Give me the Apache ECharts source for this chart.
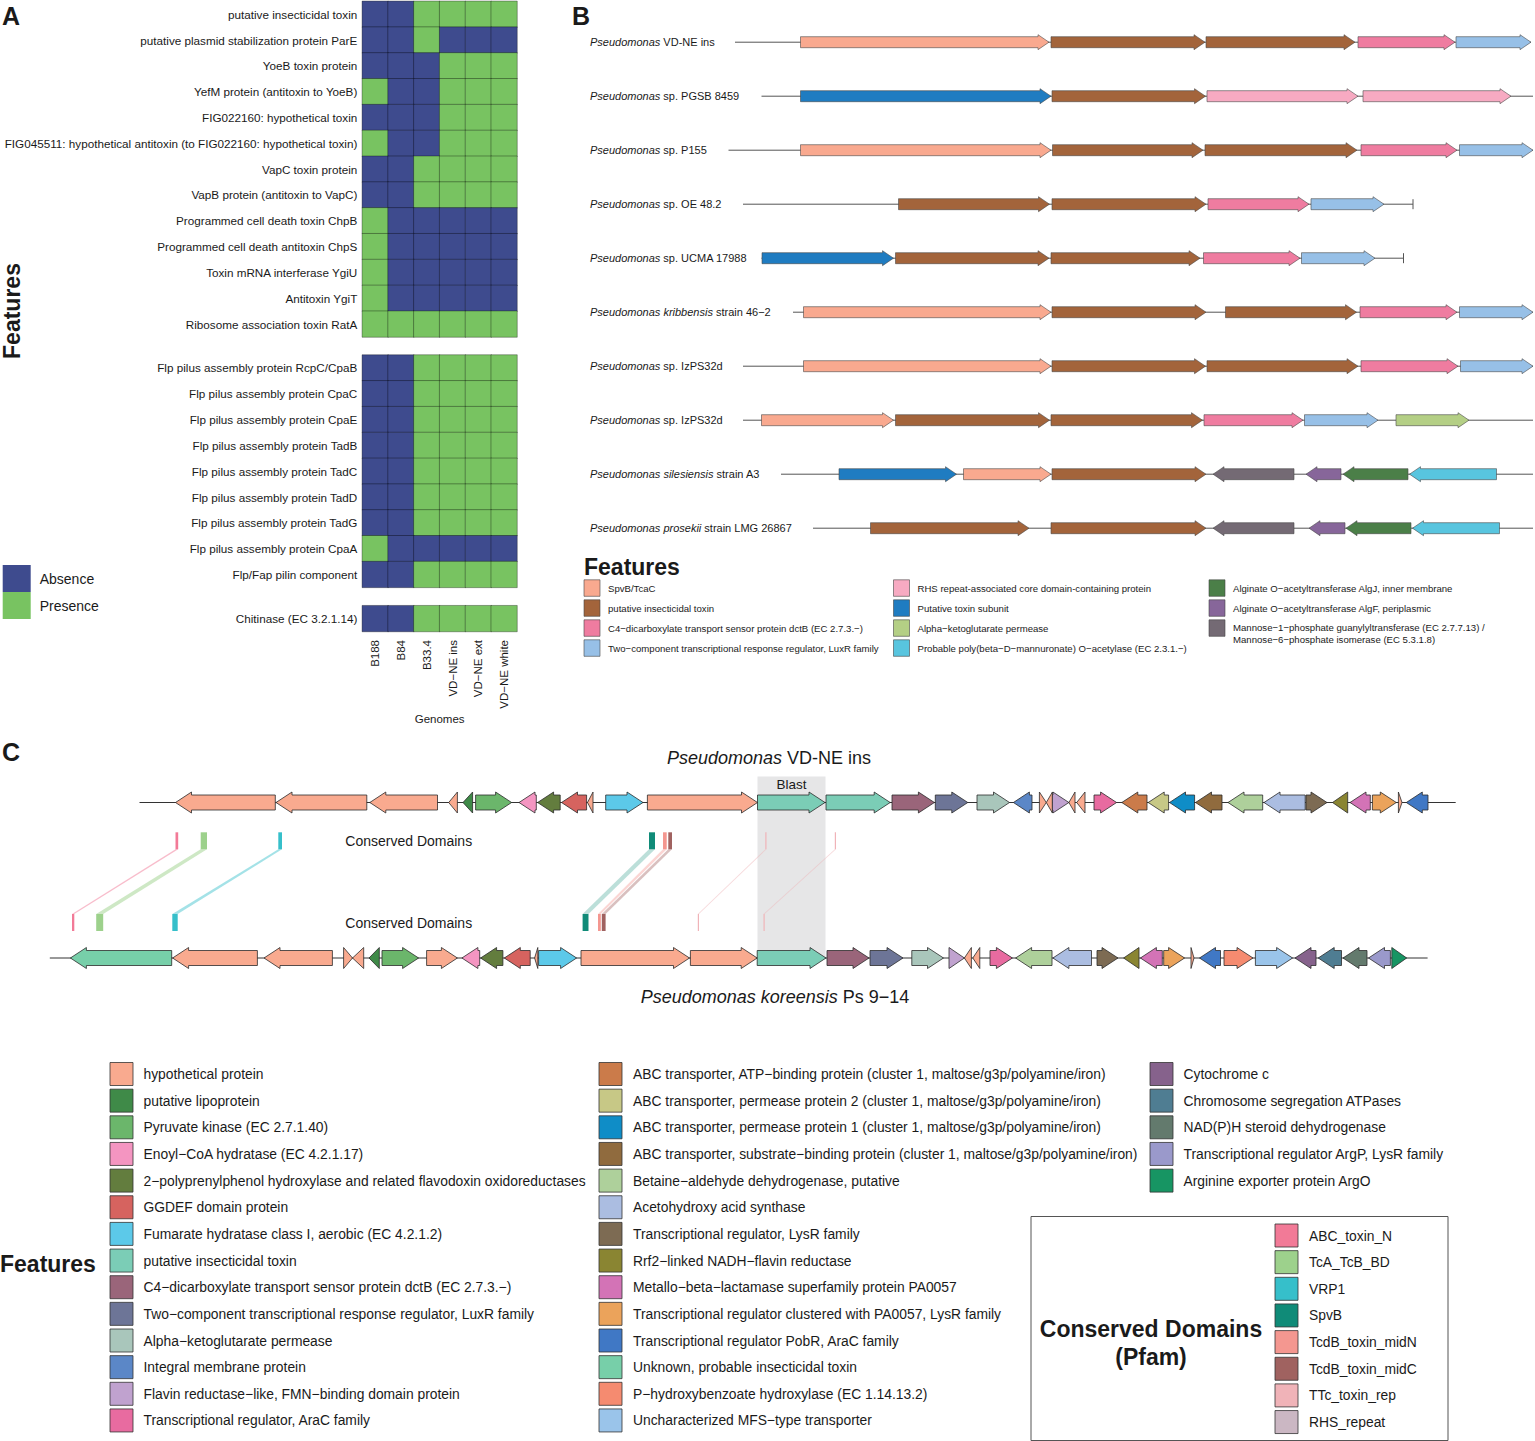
<!DOCTYPE html>
<html>
<head>
<meta charset="utf-8">
<title>Toxin gene clusters</title>
<script src="https://cdn.jsdelivr.net/npm/echarts@6/dist/echarts.min.js"></script>
<style>
html,body{margin:0;padding:0;background:#ffffff;}
#chart{width:1535px;height:1441px;}
</style>
</head>
<body>
<div id="chart"></div>
<script>
const FONT = "Liberation Sans, Arial, Helvetica, sans-serif";

// ---------------- Panel A data ----------------
const genomesA = ['B188', 'B84', 'B33.4', 'VD−NE ins', 'VD−NE ext', 'VD−NE white'];
const statesA = ['Absence', 'Presence'];
const featuresA1 = [
  'putative insecticidal toxin',
  'putative plasmid stabilization protein ParE',
  'YoeB toxin protein',
  'YefM protein (antitoxin to YoeB)',
  'FIG022160: hypothetical toxin',
  'FIG045511: hypothetical antitoxin (to FIG022160: hypothetical toxin)',
  'VapC toxin protein',
  'VapB protein (antitoxin to VapC)',
  'Programmed cell death toxin ChpB',
  'Programmed cell death antitoxin ChpS',
  'Toxin mRNA interferase YgiU',
  'Antitoxin YgiT',
  'Ribosome association toxin RatA'
];
const presenceA1 = [
  [0,0,1,1,1,1],
  [0,0,1,0,0,0],
  [0,0,0,1,1,1],
  [1,0,0,1,1,1],
  [0,0,0,1,1,1],
  [1,0,0,1,1,1],
  [0,0,1,1,1,1],
  [0,0,1,1,1,1],
  [1,0,0,0,0,0],
  [1,0,0,0,0,0],
  [1,0,0,0,0,0],
  [1,0,0,0,0,0],
  [1,1,1,1,1,1]
];
const featuresA2 = [
  'Flp pilus assembly protein RcpC/CpaB',
  'Flp pilus assembly protein CpaC',
  'Flp pilus assembly protein CpaE',
  'Flp pilus assembly protein TadB',
  'Flp pilus assembly protein TadC',
  'Flp pilus assembly protein TadD',
  'Flp pilus assembly protein TadG',
  'Flp pilus assembly protein CpaA',
  'Flp/Fap pilin component'
];
const presenceA2 = [
  [0,0,1,1,1,1],
  [0,0,1,1,1,1],
  [0,0,1,1,1,1],
  [0,0,1,1,1,1],
  [0,0,1,1,1,1],
  [0,0,1,1,1,1],
  [0,0,1,1,1,1],
  [1,0,0,0,0,0],
  [0,0,1,1,1,1]
];
const featuresA3 = ['Chitinase (EC 3.2.1.14)'];
const presenceA3 = [[0,0,1,1,1,1]];

// ---------------- Panel B data ----------------
const genomesB = [
  'Pseudomonas VD-NE ins',
  'Pseudomonas sp. PGSB 8459',
  'Pseudomonas sp. P155',
  'Pseudomonas sp. OE 48.2',
  'Pseudomonas sp. UCMA 17988',
  'Pseudomonas kribbensis strain 46−2',
  'Pseudomonas sp. IzPS32d',
  'Pseudomonas sp. IzPS32d',
  'Pseudomonas silesiensis strain A3',
  'Pseudomonas prosekii strain LMG 26867'
];
const italicB = ['Pseudomonas','Pseudomonas','Pseudomonas','Pseudomonas','Pseudomonas',
  'Pseudomonas kribbensis','Pseudomonas','Pseudomonas','Pseudomonas silesiensis','Pseudomonas prosekii'];
const typesB = [
  'SpvB/TcaC',
  'putative insecticidal toxin',
  'C4−dicarboxylate transport sensor protein dctB (EC 2.7.3.−)',
  'Two−component transcriptional response regulator, LuxR family',
  'RHS repeat-associated core domain-containing protein',
  'Putative toxin subunit',
  'Alpha−ketoglutarate permease',
  'Probable poly(beta−D−mannuronate) O−acetylase (EC 2.3.1.−)',
  'Alginate O−acetyltransferase AlgJ, inner membrane',
  'Alginate O−acetyltransferase AlgF, periplasmic',
  'Mannose−1−phosphate guanylyltransferase (EC 2.7.7.13) /\nMannose−6−phosphate isomerase (EC 5.3.1.8)'
];
const colorsB = ['#f9a98f','#a3643b','#ef7ca0','#97c0e7','#f7aac2','#1f7cc1','#b4cf85','#58c5df','#4b7f48','#87669a','#746a74'];
// contig extents: [row, start, end, endMarker]
const contigB = [
  [0, 12, 808, 0],
  [1, 38.5, 810, 0],
  [2, 5.5, 810, 0],
  [3, 20, 690, 1],
  [4, 38.5, 680.5, 1],
  [5, 70, 810, 0],
  [6, 20, 810, 0],
  [7, 20, 810, 0],
  [8, 58, 810, 0],
  [9, 90, 810, 0]
];
// genes: [row, start, end, strand, type]
const genesB = [
  [0,77.5,326,1,0],[0,328,482,1,1],[0,483,632,1,1],[0,635,732,1,2],[0,733,808,1,3],
  [1,77.5,328,1,5],[1,329,482.5,1,1],[1,484,635,1,4],[1,640,788,1,4],
  [2,77.5,328,1,0],[2,329.5,480,1,1],[2,482,634,1,1],[2,638,734,1,2],[2,736.5,810,1,3],
  [3,175.5,326.5,1,1],[3,329,483,1,1],[3,485,586,1,2],[3,588,661,1,3],
  [4,39,170.5,1,5],[4,172.5,326,1,1],[4,328,477,1,1],[4,480.5,577,1,2],[4,578.5,652,1,3],
  [5,80.5,328,1,0],[5,329,483,1,1],[5,502.5,633.5,1,1],[5,637,734,1,2],[5,736.5,810,1,3],
  [6,80.5,328,1,0],[6,329,482.5,1,1],[6,484,635,1,1],[6,638,735,1,2],[6,737.5,810,1,3],
  [7,38.5,170.5,1,0],[7,172.5,326.5,1,1],[7,328,479.5,1,1],[7,481,580,1,2],[7,581.5,655,1,3],[7,673,746,1,6],
  [8,116,233.5,1,5],[8,240.5,328,1,0],[8,329,483,1,1],[8,490,571,-1,10],[8,583,618,-1,9],[8,620,685,-1,8],[8,686.5,773.5,-1,7],
  [9,147.5,306,1,1],[9,328,483,1,1],[9,490,571,-1,10],[9,586,622,-1,9],[9,623,688,-1,8],[9,689.5,776.5,-1,7]
];

// ---------------- Panel C data ----------------
const genomesC = [['Pseudomonas', ' VD-NE ins'], ['Pseudomonas koreensis', ' Ps 9−14']];
const featuresC = [
  'hypothetical protein',
  'putative lipoprotein',
  'Pyruvate kinase (EC 2.7.1.40)',
  'Enoyl−CoA hydratase (EC 4.2.1.17)',
  '2−polyprenylphenol hydroxylase and related flavodoxin oxidoreductases',
  'GGDEF domain protein',
  'Fumarate hydratase class I, aerobic (EC 4.2.1.2)',
  'putative insecticidal toxin',
  'C4−dicarboxylate transport sensor protein dctB (EC 2.7.3.−)',
  'Two−component transcriptional response regulator, LuxR family',
  'Alpha−ketoglutarate permease',
  'Integral membrane protein',
  'Flavin reductase−like, FMN−binding domain protein',
  'Transcriptional regulator, AraC family',
  'ABC transporter, ATP−binding protein (cluster 1, maltose/g3p/polyamine/iron)',
  'ABC transporter, permease protein 2 (cluster 1, maltose/g3p/polyamine/iron)',
  'ABC transporter, permease protein 1 (cluster 1, maltose/g3p/polyamine/iron)',
  'ABC transporter, substrate−binding protein (cluster 1, maltose/g3p/polyamine/iron)',
  'Betaine−aldehyde dehydrogenase, putative',
  'Acetohydroxy acid synthase',
  'Transcriptional regulator, LysR family',
  'Rrf2−linked NADH−flavin reductase',
  'Metallo−beta−lactamase superfamily protein PA0057',
  'Transcriptional regulator clustered with PA0057, LysR family',
  'Transcriptional regulator PobR, AraC family',
  'Unknown, probable insecticidal toxin',
  'P−hydroxybenzoate hydroxylase (EC 1.14.13.2)',
  'Uncharacterized MFS−type transporter',
  'Cytochrome c',
  'Chromosome segregation ATPases',
  'NAD(P)H steroid dehydrogenase',
  'Transcriptional regulator ArgP, LysR family',
  'Arginine exporter protein ArgO'
];
const colorsC = ['#f9aa8f','#3f8a48','#6bb66b','#f495c1','#637d3e','#d6635f','#5cc9e9','#7bcdb6','#9a657a','#6d7597',
  '#a9c6bb','#5b87c7','#c0a2cf','#e86ba0','#cb7b4a','#c7c886','#0f8dc7','#906b3e','#aed09b','#abbde1',
  '#7d6b53','#8a8532','#d373b6','#eba35b','#4078c5','#77cfa9','#f58b70','#9ac4ea','#86628c','#4f7d92',
  '#637a6d','#9a99cb','#179563'];
const domainsC = ['ABC_toxin_N','TcA_TcB_BD','VRP1','SpvB','TcdB_toxin_midN','TcdB_toxin_midC','TTc_toxin_rep','RHS_repeat'];
const domainColorsC = ['#f27a97','#9dd18c','#36bfca','#108b78','#f49790','#a06260','#f0b3b8','#cbb7c3'];
// contig extents: [track, start, end]
const contigC = [[0, 99.5, 1415.7], [1, 9.8, 1387.6]];
// genes: [track, start, end, strand, feature]
const genesC = [
  [0,135.5,235.3,-1,0],[0,236,326.8,-1,0],[0,329.8,397.5,-1,0],[0,408.7,417.4,-1,0],[0,423,432.6,-1,1],
  [0,435.6,471.6,1,2],[0,479,496.3,-1,3],[0,497.6,520.2,-1,4],[0,521.5,546.6,-1,5],[0,547.5,553,-1,0],
  [0,565.7,603,1,6],[0,607.4,717.5,1,0],[0,717.5,785,1,7],[0,786,850.2,1,7],[0,852,894.4,1,8],
  [0,895.3,927.8,1,9],[0,937,969.5,1,10],[0,973.4,992,-1,11],[0,999.4,1006.3,1,0],[0,1006.3,1012.4,-1,0],
  [0,1012.4,1028.9,1,12],[0,1028.9,1035,-1,0],[0,1036.7,1045,-1,0],[0,1054,1076.6,1,13],[0,1081.8,1107,-1,14],
  [0,1108.2,1128.6,-1,15],[0,1129.5,1154.6,-1,16],[0,1155.5,1182,-1,17],[0,1188,1222.7,-1,18],[0,1224,1265.2,-1,19],
  [0,1266,1287,1,20],[0,1292.5,1307.7,-1,21],[0,1310,1330.3,-1,22],[0,1332.4,1356.3,1,23],[0,1358.4,1362,1,0],
  [0,1366.3,1388,-1,24],
  [1,30.4,131.7,-1,25],[1,132.6,217.4,-1,0],[1,224,292.4,-1,0],[1,303.6,312.5,1,0],[1,312.5,323.7,-1,0],
  [1,329,339.3,-1,1],[1,342,378.6,1,2],[1,386.6,417.4,1,0],[1,421.9,439.7,-1,3],[1,440.6,462.9,-1,4],
  [1,464.3,490.2,-1,5],[1,494.6,497.8,-1,0],[1,498.6,536.6,1,6],[1,541,649.5,1,0],[1,650.4,717.2,1,0],
  [1,717.2,786,1,7],[1,787,829,1,8],[1,830,863,1,9],[1,871.8,903.5,1,10],[1,909,924.4,1,12],
  [1,924.4,931.4,-1,0],[1,932.8,939.8,-1,0],[1,950,972.4,1,13],[1,975.6,1012,-1,18],[1,1012.9,1051.5,-1,19],
  [1,1057,1078,1,20],[1,1083.6,1099,-1,21],[1,1100.4,1122.3,-1,22],[1,1123.7,1144.6,1,23],[1,1151,1154,1,0],
  [1,1159.5,1180.5,-1,24],[1,1184,1213,1,26],[1,1215.4,1252.6,1,27],[1,1255,1276,-1,28],[1,1278.2,1301.5,-1,29],
  [1,1303,1327,-1,30],[1,1328.5,1350.4,-1,31],[1,1351.8,1366.7,1,32]
];
// conserved domain hits: [topStart, topEnd, bottomStart, bottomEnd, domain]
const domainHitsC = [
  [135.5,138.2,32,34.3,0],
  [160.7,167,56.2,63.2,1],
  [238.3,242,132.3,137.7,2],
  [609,615,542.6,548.5,3],
  [623,626.7,558,560.8,4],
  [628.3,632,561.8,565.6,5],
  [725.3,726.5,657.8,659,6],
  [794.8,796,723.5,724.7,6]
];
const blastC = [[717.5, 785.5, 'Blast']];

// ---------------- helpers ----------------
const BLUE_A = '#3e4b8e', GREEN_A = '#78c361';
const C_Y = {blastTop: 6.5, blastLabel: 14.5, topGene: 32.5, topDomTop: 62.3, topDomBot: 79.3, botDomTop: 144, botDomBot: 161, botGene: 188};
const LINK_OPACITY = [0.5, 0.5, 0.45, 0.28, 0.4, 0.4, 0.5, 0.5];

function heatData(vals) {
  const d = [];
  vals.forEach((row, r) => row.forEach((v, c) => d.push([c, r, v])));
  return d;
}
function arrowShape(x1, x2, yc, bh, hh, hl, strand) {
  const len = x2 - x1;
  const h = Math.min(hl, len);
  if (strand > 0) {
    if (h >= len) return [[x1, yc - hh], [x2, yc], [x1, yc + hh]];
    return [[x1, yc - bh], [x2 - h, yc - bh], [x2 - h, yc - hh], [x2, yc], [x2 - h, yc + hh], [x2 - h, yc + bh], [x1, yc + bh]];
  }
  if (h >= len) return [[x2, yc - hh], [x1, yc], [x2, yc + hh]];
  return [[x2, yc - bh], [x1 + h, yc - bh], [x1 + h, yc - hh], [x1, yc], [x1 + h, yc + hh], [x1 + h, yc + bh], [x2, yc + bh]];
}
function T(x, y, text, size, o) {
  o = o || {};
  const st = {
    text: text, fill: o.color || '#1a1a1a', fontSize: size, fontFamily: FONT,
    fontWeight: o.weight || 'normal', fontStyle: o.fstyle || 'normal',
    align: o.align || 'left', textAlign: o.align || 'left',
    verticalAlign: o.va || 'middle', textVerticalAlign: o.va || 'middle'
  };
  if (o.rich) st.rich = o.rich;
  if (o.lineHeight) { st.lineHeight = o.lineHeight; st.textLineHeight = o.lineHeight; }
  return {type: 'text', x: x, y: y, rotation: o.rot || 0, silent: true, z: 100, style: st};
}
function R(x, y, w, h, fill, stroke, lw) {
  return {type: 'rect', silent: true, z: 100, shape: {x: x, y: y, width: w, height: h}, style: {fill: fill, stroke: stroke, lineWidth: lw}};
}
function richItalic(size) {
  return {
    i: {fontStyle: 'italic', fontSize: size, fontFamily: FONT, fill: '#1a1a1a'},
    n: {fontStyle: 'normal', fontSize: size, fontFamily: FONT, fill: '#1a1a1a'}
  };
}

// ---------------- graphic (titles & legends) ----------------
const G = [];
G.push(T(2, 16, 'A', 25, {weight: 'bold'}));
G.push(T(572, 16, 'B', 25, {weight: 'bold'}));
G.push(T(2, 752, 'C', 25, {weight: 'bold'}));
G.push(T(12, 311, 'Features', 23, {weight: 'bold', align: 'center', rot: Math.PI / 2}));

// Panel B legend
G.push(T(584, 567, 'Features', 23, {weight: 'bold'}));
const legBX = [584, 893.5, 1209];
typesB.forEach((name, i) => {
  const col = Math.floor(i / 4), row = i % 4;
  const yc = 588 + row * 20;
  G.push(R(legBX[col], yc - 8.2, 16, 16.5, colorsB[i], '#444', 0.6));
  const lines = name.split('\n').length;
  G.push(T(legBX[col] + 24, yc + (lines - 1) * 5.5, name, 9.6, {lineHeight: 12}));
});

// Panel C titles and labels
G.push(T(769, 758, '{i|' + genomesC[0][0] + '}{n|' + genomesC[0][1] + '}', 18, {align: 'center', rich: richItalic(18)}));
G.push(T(775, 997, '{i|' + genomesC[1][0] + '}{n|' + genomesC[1][1] + '}', 18, {align: 'center', rich: richItalic(18)}));
G.push(T(345.3, 841, 'Conserved Domains', 14));
G.push(T(345.3, 922.5, 'Conserved Domains', 14));

// Panel C legend
G.push(T(0, 1264, 'Features', 23, {weight: 'bold'}));
const legCX = [110, 599, 1150], legCT = [143.5, 633, 1183.5];
featuresC.forEach((name, i) => {
  const col = i < 14 ? 0 : (i < 28 ? 1 : 2);
  const row = col === 0 ? i : (col === 1 ? i - 14 : i - 28);
  const yc = 1074 + row * 26.65;
  G.push(R(legCX[col], yc - 11.5, 23, 23, colorsC[i], '#333', 0.8));
  G.push(T(legCT[col], yc, name, 13.85));
});
G.push(R(1031, 1216.5, 417, 224, 'none', '#555', 1));
G.push(T(1151, 1329, 'Conserved Domains', 23, {weight: 'bold', align: 'center'}));
G.push(T(1151, 1357, '(Pfam)', 23, {weight: 'bold', align: 'center'}));
domainsC.forEach((name, i) => {
  const yc = 1235.5 + i * 26.65;
  G.push(R(1275, yc - 11.5, 23, 23, domainColorsC[i], '#333', 0.8));
  G.push(T(1309, yc, name, 13.85));
});

// ---------------- option ----------------
const baseGrid = {containLabel: false, outerBoundsMode: 'none', show: false};
const yCat = (grid, data) => ({
  type: 'category', gridIndex: grid, data: data, inverse: true,
  axisLine: {show: false}, axisTick: {show: false}, splitLine: {show: false},
  axisLabel: {interval: 0, margin: 5, fontSize: 11.7, color: '#1a1a1a', fontFamily: FONT}
});
const heatStyle = {borderColor: 'rgba(0,0,0,0.55)', borderWidth: 0.6};

const option = {
  animation: false,
  backgroundColor: '#ffffff',
  textStyle: {fontFamily: FONT},
  grid: [
    Object.assign({left: 362.3, top: 1.3, width: 154.7, height: 335.7}, baseGrid),
    Object.assign({left: 362.3, top: 355, width: 154.7, height: 232.4}, baseGrid),
    Object.assign({left: 362.3, top: 605.7, width: 154.7, height: 25.8}, baseGrid),
    Object.assign({left: 723, top: 15.2, width: 810, height: 540}, baseGrid),
    Object.assign({left: 40, top: 770, width: 1430, height: 200}, baseGrid)
  ],
  xAxis: [
    {type: 'category', gridIndex: 0, data: genomesA, show: false},
    {type: 'category', gridIndex: 1, data: genomesA, show: false},
    {type: 'category', gridIndex: 2, data: genomesA,
      axisLine: {show: false}, axisTick: {show: false}, splitLine: {show: false},
      axisLabel: {rotate: 90, interval: 0, margin: 8.5, fontSize: 11.5, color: '#1a1a1a', fontFamily: FONT},
      name: 'Genomes', nameLocation: 'middle', nameGap: 81,
      nameTextStyle: {fontSize: 11.5, color: '#1a1a1a', fontFamily: FONT}},
    {type: 'value', gridIndex: 3, min: 0, max: 810, show: false, splitLine: {show: false}},
    {type: 'value', gridIndex: 4, min: 0, max: 1430, show: false, splitLine: {show: false}}
  ],
  yAxis: [
    yCat(0, featuresA1),
    yCat(1, featuresA2),
    yCat(2, featuresA3),
    {type: 'category', gridIndex: 3, data: genomesB, inverse: true,
      axisLine: {show: false}, axisTick: {show: false}, splitLine: {show: false},
      axisLabel: {interval: 0, align: 'left', margin: 133, fontSize: 11, color: '#1a1a1a', fontFamily: FONT,
        formatter: function (val, idx) {
          return '{i|' + italicB[idx] + '}{n|' + genomesB[idx].slice(italicB[idx].length) + '}';
        },
        rich: {
          i: {fontStyle: 'italic', fontSize: 11, fontFamily: FONT, color: '#1a1a1a'},
          n: {fontSize: 11, fontFamily: FONT, color: '#1a1a1a'}
        }}},
    {type: 'value', gridIndex: 4, min: 0, max: 200, inverse: true, show: false, splitLine: {show: false}}
  ],
  visualMap: [{
    type: 'piecewise', seriesIndex: [0, 1, 2], dimension: 2, orient: 'vertical', inverse: true,
    pieces: [{value: 0, label: statesA[0], color: BLUE_A}, {value: 1, label: statesA[1], color: GREEN_A}],
    left: -12.3, top: 550, itemWidth: 28, itemHeight: 27, itemGap: 0, itemSymbol: 'rect', textGap: 9,
    selectedMode: false, showLabel: true,
    textStyle: {fontSize: 14, color: '#1a1a1a', fontFamily: FONT}
  }],
  series: [
    {type: 'heatmap', xAxisIndex: 0, yAxisIndex: 0, data: heatData(presenceA1), itemStyle: heatStyle, emphasis: {disabled: true}},
    {type: 'heatmap', xAxisIndex: 1, yAxisIndex: 1, data: heatData(presenceA2), itemStyle: heatStyle, emphasis: {disabled: true}},
    {type: 'heatmap', xAxisIndex: 2, yAxisIndex: 2, data: heatData(presenceA3), itemStyle: heatStyle, emphasis: {disabled: true}},
    // Panel B contigs
    {type: 'custom', xAxisIndex: 3, yAxisIndex: 3, data: contigB, encode: {x: [1, 2], y: 0}, silent: true,
      renderItem: function (params, api) {
        const r = api.value(0);
        const a = api.coord([api.value(1), r]), b = api.coord([api.value(2), r]);
        const ch = [{type: 'line', shape: {x1: a[0], y1: a[1], x2: b[0], y2: b[1]}, style: {stroke: '#555', lineWidth: 1}}];
        if (api.value(3)) ch.push({type: 'line', shape: {x1: b[0], y1: b[1] - 5, x2: b[0], y2: b[1] + 5}, style: {stroke: '#555', lineWidth: 1}});
        return {type: 'group', children: ch};
      }},
    // Panel B genes
    {type: 'custom', xAxisIndex: 3, yAxisIndex: 3, data: genesB, encode: {x: [1, 2], y: 0}, silent: true,
      renderItem: function (params, api) {
        const r = api.value(0);
        const a = api.coord([api.value(1), r]), b = api.coord([api.value(2), r]);
        return {type: 'polygon', shape: {points: arrowShape(a[0], b[0], a[1], 5.5, 7.5, 11, api.value(3))},
          style: {fill: colorsB[api.value(4)], stroke: '#4a4a4a', lineWidth: 0.6}};
      }},
    // Panel C blast region
    {type: 'custom', xAxisIndex: 4, yAxisIndex: 4, data: blastC, encode: {x: [0, 1]}, silent: true,
      renderItem: function (params, api) {
        const a = api.coord([api.value(0), C_Y.blastTop]), b = api.coord([api.value(1), C_Y.botGene]);
        const lab = api.coord([(api.value(0) + api.value(1)) / 2, C_Y.blastLabel]);
        return {type: 'group', children: [
          {type: 'rect', shape: {x: a[0], y: a[1], width: b[0] - a[0], height: b[1] - a[1]}, style: {fill: '#e6e6e7'}},
          {type: 'text', x: lab[0], y: lab[1], style: {text: blastC[params.dataIndex][2], fontSize: 13.5, fontFamily: FONT, fill: '#1a1a1a', align: 'center', verticalAlign: 'middle', textAlign: 'center', textVerticalAlign: 'middle'}}
        ]};
      }},
    // Panel C domain links
    {type: 'custom', xAxisIndex: 4, yAxisIndex: 4, data: domainHitsC, encode: {x: [0, 1, 2, 3]}, silent: true,
      renderItem: function (params, api) {
        const a = api.coord([api.value(0), C_Y.topDomBot]), b = api.coord([api.value(1), C_Y.topDomBot]);
        const c = api.coord([api.value(3), C_Y.botDomTop]), d = api.coord([api.value(2), C_Y.botDomTop]);
        const k = api.value(4);
        return {type: 'polygon', shape: {points: [a, b, c, d]}, style: {fill: domainColorsC[k], opacity: LINK_OPACITY[k]}};
      }},
    // Panel C domain bars
    {type: 'custom', xAxisIndex: 4, yAxisIndex: 4, data: domainHitsC, encode: {x: [0, 1, 2, 3]}, silent: true,
      renderItem: function (params, api) {
        const col = domainColorsC[api.value(4)];
        const a = api.coord([api.value(0), C_Y.topDomTop]), b = api.coord([api.value(1), C_Y.topDomBot]);
        const c = api.coord([api.value(2), C_Y.botDomTop]), d = api.coord([api.value(3), C_Y.botDomBot]);
        return {type: 'group', children: [
          {type: 'rect', shape: {x: a[0], y: a[1], width: Math.max(1.2, b[0] - a[0]), height: b[1] - a[1]}, style: {fill: col}},
          {type: 'rect', shape: {x: c[0], y: c[1], width: Math.max(1.2, d[0] - c[0]), height: d[1] - c[1]}, style: {fill: col}}
        ]};
      }},
    // Panel C contigs
    {type: 'custom', xAxisIndex: 4, yAxisIndex: 4, data: contigC, encode: {x: [1, 2], y: 0}, silent: true,
      renderItem: function (params, api) {
        const yv = api.value(0) === 0 ? C_Y.topGene : C_Y.botGene;
        const a = api.coord([api.value(1), yv]), b = api.coord([api.value(2), yv]);
        return {type: 'line', shape: {x1: a[0], y1: a[1], x2: b[0], y2: b[1]}, style: {stroke: '#333', lineWidth: 1}};
      }},
    // Panel C genes
    {type: 'custom', xAxisIndex: 4, yAxisIndex: 4, data: genesC, encode: {x: [1, 2], y: 0}, silent: true,
      renderItem: function (params, api) {
        const yv = api.value(0) === 0 ? C_Y.topGene : C_Y.botGene;
        const a = api.coord([api.value(1), yv]), b = api.coord([api.value(2), yv]);
        return {type: 'polygon', shape: {points: arrowShape(a[0], b[0], a[1], 7.5, 10.5, 16, api.value(3))},
          style: {fill: colorsC[api.value(4)], stroke: '#2b2b2b', lineWidth: 0.8}};
      }}
  ],
  graphic: {elements: G}
};

const chart = echarts.init(document.getElementById('chart'), null, {renderer: 'svg', width: 1535, height: 1441});
chart.setOption(option);
</script>
</body>
</html>
